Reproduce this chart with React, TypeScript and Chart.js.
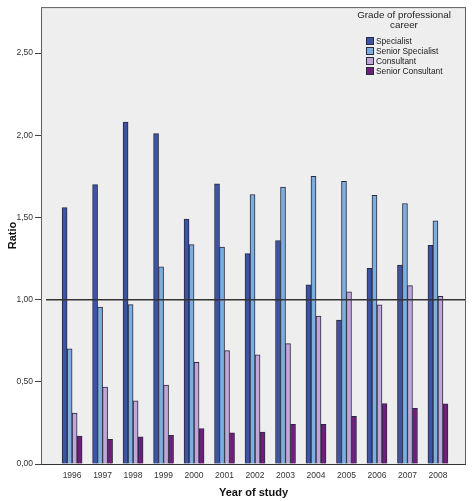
import React, { useEffect, useRef } from "react";
import { Chart, registerables } from "chart.js";

Chart.register(...registerables);

const years = [1996, 1997, 1998, 1999, 2000, 2001, 2002, 2003, 2004, 2005, 2006, 2007, 2008];
const specialist = [1.56, 1.70, 2.08, 2.01, 1.49, 1.705, 1.28, 1.36, 1.09, 0.875, 1.19, 1.21, 1.33];
const seniorSpecialist = [0.70, 0.955, 0.97, 1.20, 1.335, 1.32, 1.64, 1.685, 1.75, 1.72, 1.635, 1.585, 1.48];
const consultant = [0.31, 0.468, 0.384, 0.48, 0.618, 0.69, 0.664, 0.732, 0.90, 1.048, 0.968, 1.085, 1.02];
const seniorConsultant = [0.17, 0.15, 0.166, 0.174, 0.216, 0.19, 0.194, 0.242, 0.242, 0.29, 0.368, 0.338, 0.366];

const seriesNames = ["Specialist", "Senior Specialist", "Consultant", "Senior Consultant"];
const seriesColors = ["#3b54a5", "#7cafdd", "#c2a6d8", "#6e1f7c"];
const legendTitle = ["Grade of professional", "career"];
const yTitle = "Ratio";
const xTitle = "Year of study";
const referenceValue = 1.0;

const FONT = "'Liberation Sans', Arial, sans-serif";

export default function App() {
  const ref = useRef<HTMLCanvasElement | null>(null);

  useEffect(() => {
    const canvas = ref.current;
    if (!canvas) return;
    const allSeries = [specialist, seniorSpecialist, consultant, seniorConsultant];

    const bgPlugin = {
      id: "bgPlugin",
      beforeDraw(chart: any) {
        const { ctx, chartArea } = chart;
        ctx.save();
        ctx.fillStyle = "#ffffff";
        ctx.fillRect(0, 0, chart.width, chart.height);
        ctx.fillStyle = "#eeeeee";
        ctx.fillRect(chartArea.left, chartArea.top, chartArea.right - chartArea.left, chartArea.bottom - chartArea.top);
        ctx.restore();
      },
      afterDatasetsDraw(chart: any) {
        const { ctx, chartArea, scales } = chart;
        ctx.save();
        // reference line
        const yRef = scales.y.getPixelForValue(referenceValue);
        ctx.strokeStyle = "#333333";
        ctx.lineWidth = 1.5;
        ctx.beginPath();
        ctx.moveTo(chartArea.left + 5, yRef);
        ctx.lineTo(chartArea.right - 1, yRef);
        ctx.stroke();
        // frame
        ctx.strokeStyle = "#5e5e5e";
        ctx.lineWidth = 1;
        ctx.strokeRect(chartArea.left + 0.5, chartArea.top + 0.5, chartArea.right - chartArea.left - 1, chartArea.bottom - chartArea.top);
        ctx.strokeStyle = "#333333";
        ctx.beginPath();
        ctx.moveTo(chartArea.left, chartArea.bottom + 0.5);
        ctx.lineTo(chartArea.right, chartArea.bottom + 0.5);
        ctx.stroke();
        // legend
        const cx = 404;
        ctx.fillStyle = "#222222";
        ctx.font = `9.8px ${FONT}`;
        ctx.textAlign = "center";
        ctx.textBaseline = "middle";
        ctx.fillText(legendTitle[0], cx, 15);
        ctx.fillText(legendTitle[1], cx, 25);
        ctx.font = `8.4px ${FONT}`;
        ctx.textAlign = "left";
        seriesNames.forEach((name, i) => {
          const y = 41 + i * 10;
          ctx.fillStyle = seriesColors[i];
          ctx.fillRect(366, y - 4, 8, 8);
          ctx.strokeStyle = "#2a2a40";
          ctx.lineWidth = 1;
          ctx.strokeRect(366.5, y - 3.5, 7, 7);
          ctx.fillStyle = "#222222";
          ctx.fillText(name, 376, y + 0.5);
        });
        ctx.restore();
      },
    };

    const chart = new Chart(canvas, {
      type: "bar",
      data: {
        datasets: seriesNames.map((name, i) => ({
          label: name,
          data: years.map((yr, j) => ({ x: yr, y: allSeries[i][j] })),
          backgroundColor: seriesColors[i],
          borderColor: "#2a2a40",
          borderWidth: 1,
          barThickness: 5,
        })),
      },
      options: {
        animation: false,
        responsive: false,
        layout: { padding: { top: 1, right: 6, left: 0, bottom: 0 } },
        plugins: {
          legend: { display: false },
          tooltip: { enabled: false },
        },
        scales: {
          x: {
            type: "linear",
            offset: false,
            min: 1994.98,
            max: 2008.92,
            grid: { display: false, drawTicks: false },
            border: { display: false },
            ticks: {
              stepSize: 1,
              includeBounds: false,
              autoSkip: false,
              maxRotation: 0,
              padding: 7,
              color: "#333333",
              font: { family: FONT, size: 8.5 },
              callback: (v: any) => (Number.isInteger(v) && v >= 1996 && v <= 2008 ? String(v) : ""),
            },
            title: {
              display: true,
              text: xTitle,
              color: "#111111",
              font: { family: FONT, size: 11, weight: "bold" },
              padding: { top: 0, bottom: 1.5 },
            },
            afterFit: (s: any) => {
              s.height = 37;
            },
          },
          y: {
            min: 0,
            max: 2.78,
            border: { display: false },
            grid: {
              display: true,
              drawOnChartArea: false,
              color: "transparent",
              tickColor: "#444444",
              tickLength: 6,
            },
            ticks: {
              stepSize: 0.5,
              includeBounds: false,
              padding: 2,
              color: "#333333",
              font: { family: FONT, size: 8.5 },
              callback: (v: any) => Number(v).toFixed(2).replace(".", ","),
            },
            title: {
              display: true,
              text: yTitle,
              color: "#111111",
              font: { family: FONT, size: 11, weight: "bold" },
              padding: { top: 6, bottom: 0 },
            },
            afterFit: (s: any) => {
              s.width = 41;
            },
          },
        },
      },
      plugins: [bgPlugin],
    } as any);

    return () => chart.destroy();
  }, []);

  return (
    <div style={{ position: "absolute", left: 0, top: 0, width: 472, height: 501 }}>
      <canvas ref={ref} width={472} height={501} style={{ display: "block" }} />
    </div>
  );
}
